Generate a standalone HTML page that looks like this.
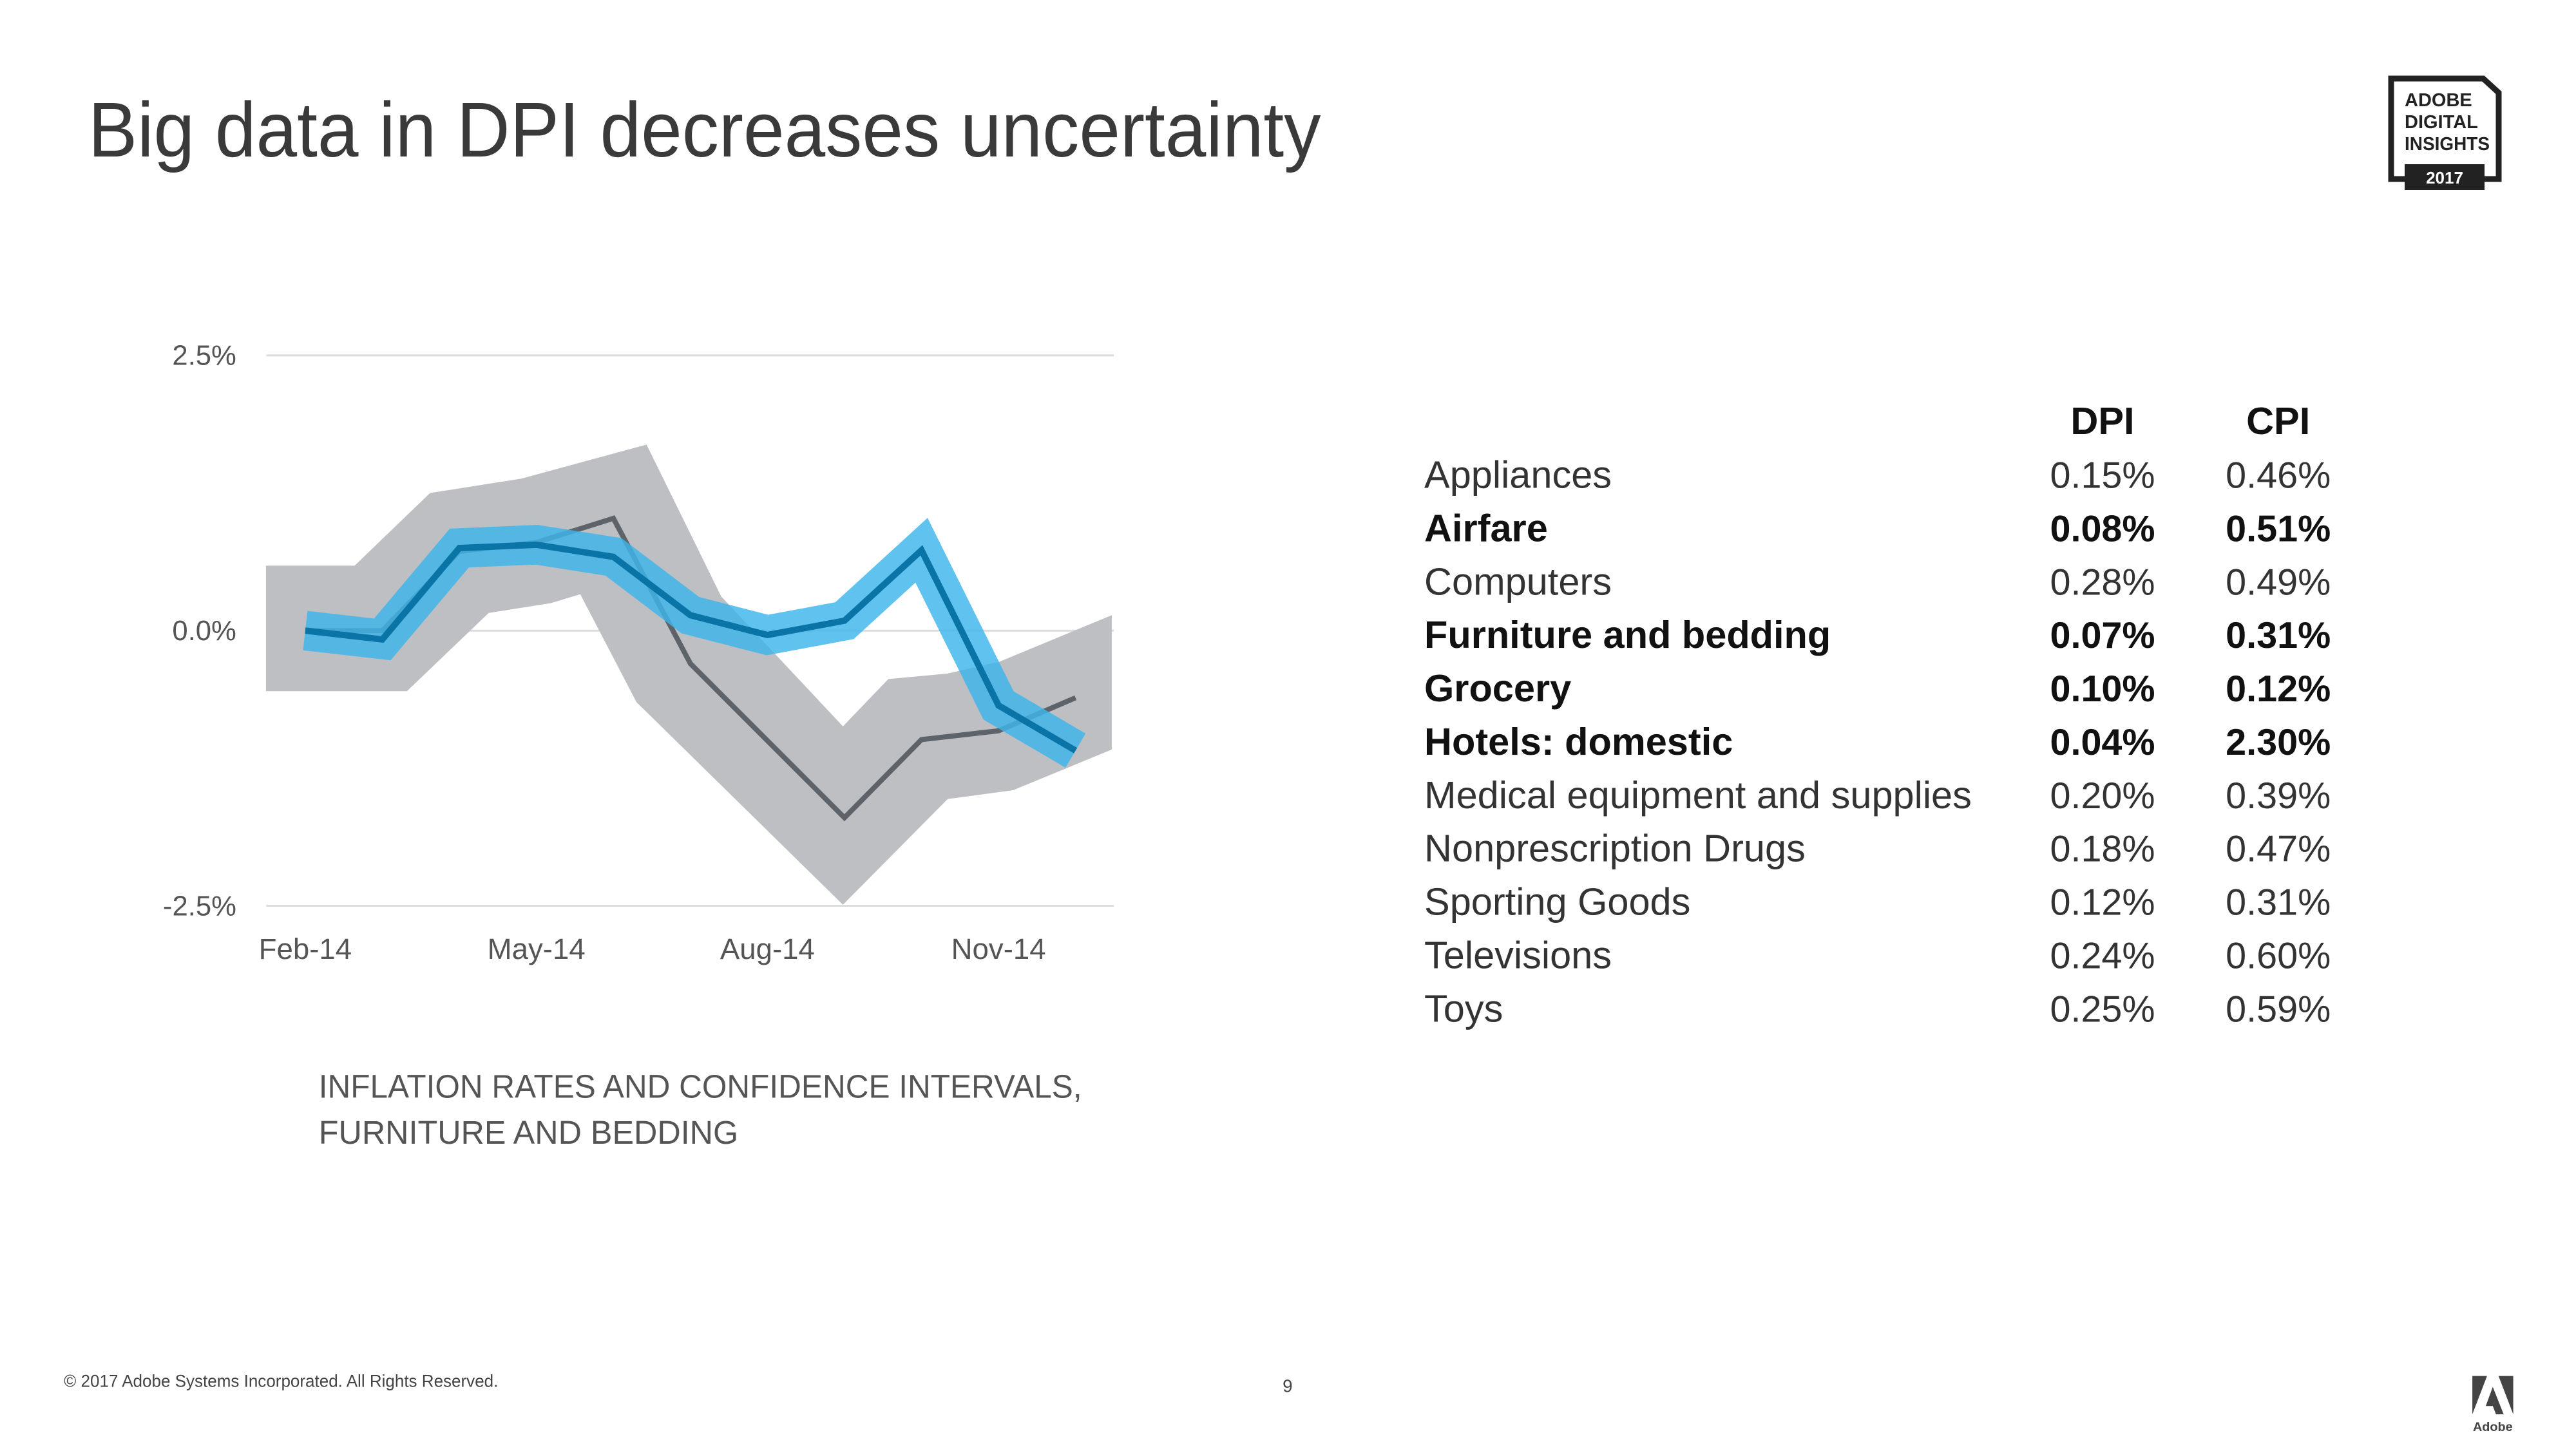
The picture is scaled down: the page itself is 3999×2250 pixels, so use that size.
<!DOCTYPE html>
<html><head><meta charset="utf-8"><style>
html,body{margin:0;padding:0;background:#fff;}
svg{display:block;font-family:"Liberation Sans",sans-serif;}
</style></head><body>
<svg id="root" width="3999" height="2250" viewBox="0 0 3999 2250" xmlns="http://www.w3.org/2000/svg">
<g>
<path d="M3712 122 L3855 122 L3879 144 L3879 278 L3712 278 Z" fill="none" stroke="#222" stroke-width="9"/>
<rect x="3733" y="255" width="124" height="40" fill="#222"/>
<text x="3733" y="165" font-size="29" font-weight="bold" fill="#222">ADOBE</text>
<text x="3733" y="199" font-size="29" font-weight="bold" fill="#222">DIGITAL</text>
<text x="3733" y="233" font-size="29" font-weight="bold" fill="#222" textLength="132" lengthAdjust="spacingAndGlyphs">INSIGHTS</text>
<text x="3795" y="285" font-size="26" font-weight="bold" fill="#fff" text-anchor="middle">2017</text>
</g>
<g transform="scale(0.9915)">
<text x="138" y="245" font-size="122" fill="#3a3a3a" textLength="1930" lengthAdjust="spacingAndGlyphs">Big data in DPI decreases uncertainty</text>
<g id="chart"></g>
<text x="499" y="1719" font-size="51" fill="#555" textLength="1195" lengthAdjust="spacingAndGlyphs">INFLATION RATES AND CONFIDENCE INTERVALS,</text>
<text x="499" y="1791" font-size="51" fill="#555" textLength="657" lengthAdjust="spacingAndGlyphs">FURNITURE AND BEDDING</text>
<g id="table"></g>
<text x="100" y="2172" font-size="27" fill="#444" textLength="680" lengthAdjust="spacingAndGlyphs">© 2017 Adobe Systems Incorporated.  All Rights Reserved.</text>
<text x="2016" y="2180" font-size="28" fill="#444" text-anchor="middle">9</text>
<g>
<polygon points="3871,2215 3871,2155 3894,2155" fill="#444"/>
<polygon points="3912,2155 3935,2155 3935,2215" fill="#444"/>
<polygon points="3903,2172 3920,2215 3908,2215 3903,2202 3892,2202" fill="#444"/>
<text x="3903" y="2241" font-size="20" font-weight="bold" fill="#444" text-anchor="middle">Adobe</text>
</g>
</g>
</svg>
<script>
const NS="http://www.w3.org/2000/svg";
const months=["Feb-14","Mar-14","Apr-14","May-14","Jun-14","Jul-14","Aug-14","Sep-14","Oct-14","Nov-14","Dec-14"];
const tickMonths=["Feb-14","May-14","Aug-14","Nov-14"];
const yTicks=[2.5,0,-2.5];
const yTickLabels=["2.5%","0.0%","-2.5%"];
const dpi=[0,-0.08,0.75,0.78,0.67,0.14,-0.04,0.09,0.73,-0.68,-1.09];
const cpi=[0,0,0.72,0.8,1.02,-0.3,-1.0,-1.7,-0.99,-0.91,-0.61];
const cpiUpperIdx=[-0.51,0.64,1.62,2.8,4.43,5.4,6.98,7.57,8.34,9.02,10.47];
const cpiUpper=[0.59,0.59,1.25,1.38,1.69,0.31,-0.87,-0.44,-0.39,-0.28,0.14];
const cpiLowerIdx=[10.47,9.19,8.34,6.98,4.3,3.57,3.19,2.38,1.32,-0.51];
const cpiLower=[-1.08,-1.45,-1.53,-2.49,-0.65,0.33,0.25,0.16,-0.55,-0.55];
const categories=["Appliances","Airfare","Computers","Furniture and bedding","Grocery","Hotels: domestic","Medical equipment and supplies","Nonprescription Drugs","Sporting Goods","Televisions","Toys"];
const dpiVals=["0.15%","0.08%","0.28%","0.07%","0.10%","0.04%","0.20%","0.18%","0.12%","0.24%","0.25%"];
const cpiVals=["0.46%","0.51%","0.49%","0.31%","0.12%","2.30%","0.39%","0.47%","0.31%","0.60%","0.59%"];
const boldRows=[false,true,false,true,true,true,false,false,false,false,false];

const X=i=>478+i*120.6;
const Y=v=>987.6-v*172.4;
const chart=document.getElementById('chart');
function mk(tag,attrs,parent){const e=document.createElementNS(NS,tag);for(const k in attrs)e.setAttribute(k,attrs[k]);(parent||chart).appendChild(e);return e;}

yTicks.forEach((t,i)=>{
  const g=mk('line',{x1:417,x2:1744,y1:Y(t),y2:Y(t),stroke:'#dcdcdc','stroke-width':3});
  
  
  const l=mk('text',{x:370,y:Y(t)+15,'font-size':44,fill:'#555','text-anchor':'end'});
  l.textContent=yTickLabels[i];
  
  
});
tickMonths.forEach(m=>{
  const i=months.indexOf(m);
  const l=mk('text',{x:X(i),y:1502,'font-size':46,fill:'#555','text-anchor':'middle'});
  l.textContent=m;
  
  
});
let pts=cpiUpperIdx.map((x,i)=>X(x)+','+Y(cpiUpper[i])).concat(cpiLowerIdx.map((x,i)=>X(x)+','+Y(cpiLower[i])));
const band=mk('polygon',{points:pts.join(' '),fill:'#bdbfc3'});


const cl=mk('polyline',{points:cpi.map((v,i)=>X(i)+','+Y(v)).join(' '),fill:'none',stroke:'#5e636a','stroke-width':8,'stroke-linejoin':'miter'});


const db=mk('polyline',{points:dpi.map((v,i)=>X(i)+','+Y(v)).join(' '),fill:'none',stroke:'#3db4ea','stroke-opacity':0.82,'stroke-width':62,'stroke-linejoin':'miter','stroke-miterlimit':3});


const dl=mk('polyline',{points:dpi.map((v,i)=>X(i)+','+Y(v)).join(' '),fill:'none',stroke:'#0a74a6','stroke-width':10,'stroke-linejoin':'miter'});



const tb=document.getElementById('table');
const h1=mk('text',{x:3292,y:680,'font-size':60,'font-weight':'bold',fill:'#111','text-anchor':'middle'},tb);
h1.textContent='DPI';


const h2=mk('text',{x:3567,y:680,'font-size':60,'font-weight':'bold',fill:'#111','text-anchor':'middle'},tb);
h2.textContent='CPI';


categories.forEach((c,i)=>{
  const y=764+i*83.6;
  const w=boldRows[i]?'bold':'normal';
  const col=boldRows[i]?'#111':'#333';
  const a=mk('text',{x:2230,y:y,'font-size':60,'font-weight':w,fill:col},tb);
  a.textContent=c;
  
  
  const b=mk('text',{x:3292,y:y,'font-size':58,'font-weight':w,fill:col,'text-anchor':'middle'},tb);
  b.textContent=dpiVals[i];
  
  
  const d=mk('text',{x:3567,y:y,'font-size':58,'font-weight':w,fill:col,'text-anchor':'middle'},tb);
  d.textContent=cpiVals[i];
  
  
});
</script>
</body></html>
